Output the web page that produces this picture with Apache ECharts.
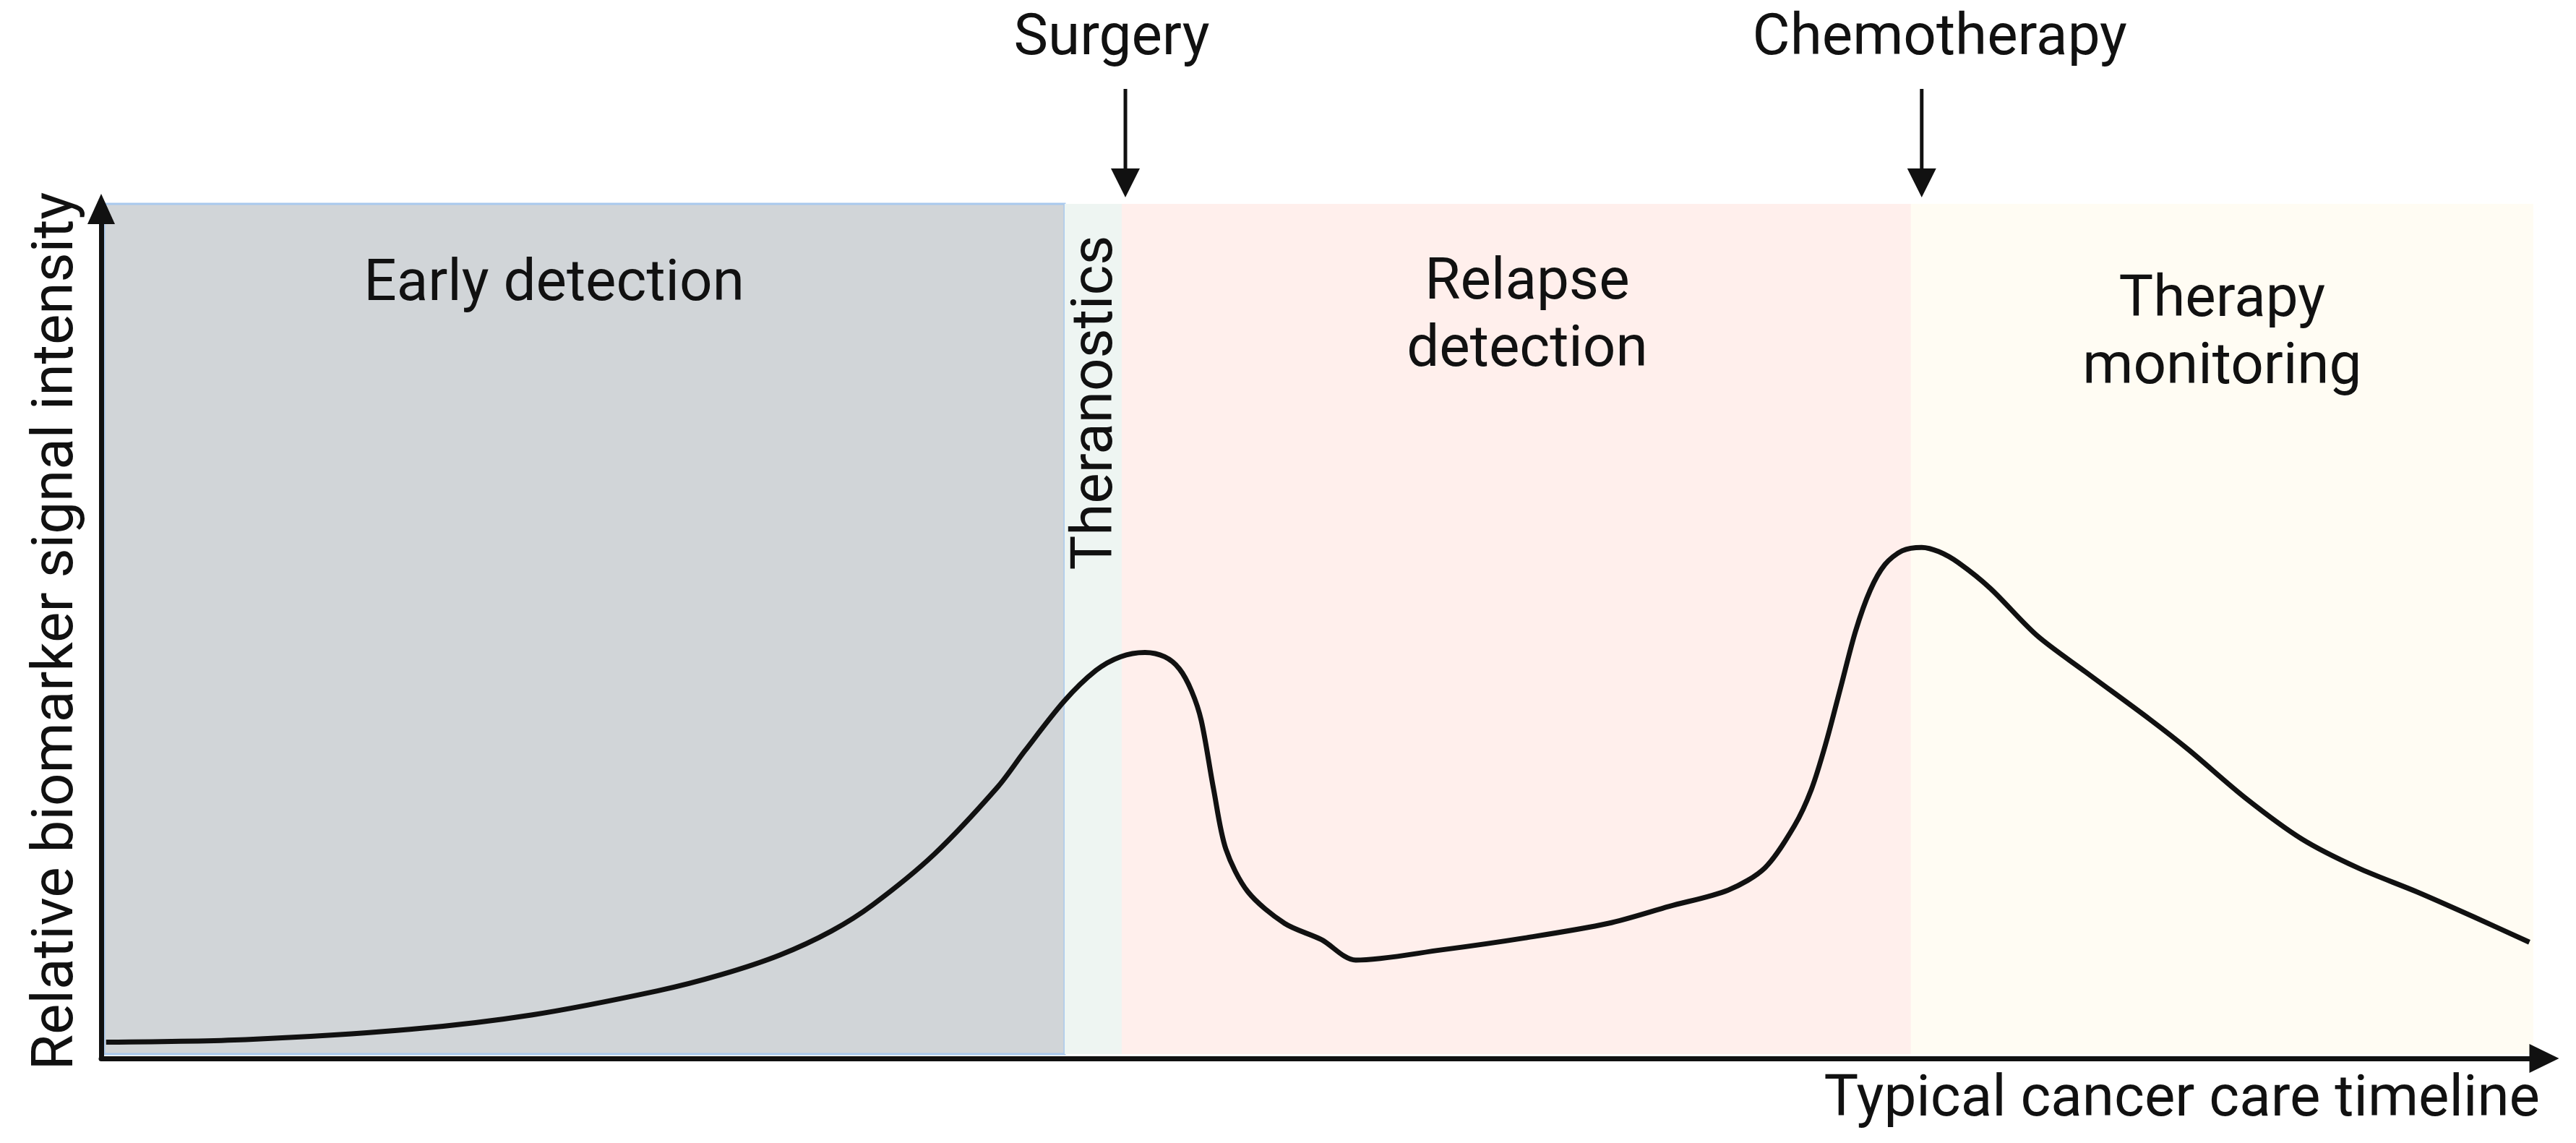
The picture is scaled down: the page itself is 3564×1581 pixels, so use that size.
<!DOCTYPE html>
<html>
<head>
<meta charset="utf-8">
<script src="https://cdn.jsdelivr.net/npm/echarts@6/dist/echarts.min.js"></script>
<style>
html,body{margin:0;padding:0;background:#ffffff;}
#chart{width:3564px;height:1581px;}
</style>
</head>
<body>
<div id="chart"></div>
<script>
// ---- data ----
const timeline = [0.2, 5.9, 12.6, 17.6, 22.7, 25.3, 27.7, 29.8, 31.5, 34.0,
  36.6, 37.7, 39.3, 40.6, 41.6, 42.6, 43.4, 44.0, 44.5, 44.9,
  45.4, 45.9, 46.8, 48.3, 49.8, 51.2, 54.7, 58.1, 61.5, 64.0,
  66.4, 67.9, 69.1, 69.8, 70.4, 71.0, 71.6, 72.2, 72.8, 73.5,
  74.3, 75.0, 75.8, 77.1, 79.0, 81.0, 83.6, 85.2, 87.5, 89.8,
  92.1, 94.5, 96.8, 99.1];
const intensity = [1.9, 2.2, 3.4, 5.1, 7.9, 9.8, 12.1, 14.9, 18.0, 23.9,
  31.8, 36.0, 41.8, 45.4, 47.0, 47.5, 47.0, 45.6, 43.0, 39.5,
  31.5, 24.5, 19.5, 15.8, 13.9, 11.5, 12.7, 14.1, 15.8, 17.8,
  19.7, 22.3, 27.2, 31.5, 37.0, 43.5, 50.0, 54.8, 57.8, 59.4,
  59.8, 59.3, 58.0, 55.0, 49.5, 45.2, 39.7, 36.1, 30.5, 25.7,
  22.3, 19.5, 16.6, 13.6];

const phaseNames = ['Early detection', 'Theranostics', 'Relapse\ndetection', 'Therapy\nmonitoring'];
const phaseStart = [0.12, 39.32, 41.65, 73.86];
const phaseEnd = [39.32, 41.65, 73.86, 99.26];

const eventNames = ['Surgery', 'Chemotherapy'];
const eventTimes = [41.8, 74.3];

const yName = 'Relative biomarker signal intensity';
const xName = 'Typical cancer care timeline';

// ---- styling ----
const FONT = 'Roboto, "Noto Sans", "DejaVu Sans", sans-serif';
const INK = '#111111';
const phaseStyles = [
  { item: { color: '#d1d5d8', borderColor: '#a9c9ee', borderWidth: 3 },
    label: { position: 'insideTop', distance: 68, offset: [-42, 0] } },
  { item: { color: '#eef5f2', borderWidth: 0 },
    label: { position: [45, 275], rotate: 90, align: 'center', verticalAlign: 'middle' } },
  { item: { color: '#ffefec', borderWidth: 0 },
    label: { position: 'insideTop', distance: 64, offset: [15, 0] } },
  { item: { color: '#fffcf3', borderWidth: 0 },
    label: { position: 'insideTop', distance: 88, offset: [0, 0] } }
];
const eventLabelShift = [-19, 25];

const baseLabel = { show: true, color: INK, fontSize: 80, fontFamily: FONT, lineHeight: 93 };

const areaData = phaseNames.map((n, i) => [
  { name: n, xAxis: phaseStart[i], yAxis: 0.5,
    itemStyle: phaseStyles[i].item,
    label: Object.assign({}, baseLabel, phaseStyles[i].label) },
  { xAxis: phaseEnd[i], yAxis: 100 }
]);

const chart = echarts.init(document.getElementById('chart'), null, { renderer: 'canvas' });

chart.setOption({
  animation: false,
  backgroundColor: '#ffffff',
  grid: { left: 140, right: 34, top: 282, bottom: 117, containLabel: false, outerBoundsMode: 'none' },
  xAxis: {
    type: 'value', min: 0, max: 100, z: 10,
    axisLine: { show: true, onZero: false, lineStyle: { color: INK, width: 7 },
      symbol: ['none', 'triangle'], symbolSize: [40, 41], symbolOffset: [0, -10] },
    axisTick: { show: false }, axisLabel: { show: false }, splitLine: { show: false },
    name: xName, nameLocation: 'end', nameGap: -16,
    nameTextStyle: { fontSize: 80, fontFamily: FONT, color: INK, align: 'right', verticalAlign: 'top',
      lineHeight: 80, padding: [19, 0, 0, 0] }
  },
  yAxis: {
    type: 'value', min: 0, max: 100, z: 10,
    axisLine: { show: true, onZero: false, lineStyle: { color: INK, width: 7 },
      symbol: ['none', 'triangle'], symbolSize: [38, 42], symbolOffset: [0, -7] },
    axisTick: { show: false }, axisLabel: { show: false }, splitLine: { show: false },
    name: yName, nameLocation: 'middle', nameGap: 20,
    nameTextStyle: { fontSize: 80, fontFamily: FONT, color: INK, lineHeight: 80 }
  },
  series: [
    {
      type: 'line',
      name: 'Biomarker signal',
      data: timeline.map((t, i) => [t, intensity[i]]),
      smooth: 0.3,
      showSymbol: false,
      silent: true,
      clip: false,
      z: 4,
      lineStyle: { color: INK, width: 7 },
      markArea: { silent: true, z: 1, data: areaData }
    },
    {
      type: 'custom',
      name: 'Events',
      coordinateSystem: 'cartesian2d',
      clip: false,
      silent: true,
      z: 6,
      data: eventTimes.map((t, i) => ({ name: eventNames[i], value: [t, 100] })),
      renderItem: function (params, api) {
        const p = api.coord([api.value(0), api.value(1)]);
        const x = p[0], y = p[1];
        const i = params.dataIndex;
        return {
          type: 'group',
          children: [
            { type: 'line', shape: { x1: x, y1: y - 159, x2: x, y2: y - 46 },
              style: { stroke: INK, lineWidth: 5 } },
            { type: 'polygon', shape: { points: [[x - 20, y - 49], [x + 20, y - 49], [x, y - 9]] },
              style: { fill: INK } },
            { type: 'text', x: x + eventLabelShift[i], y: y - 227,
              style: { text: eventNames[i], fill: INK, fontSize: 80, fontFamily: FONT,
                align: 'center', verticalAlign: 'middle' } }
          ]
        };
      }
    }
  ]
});
</script>
</body>
</html>
